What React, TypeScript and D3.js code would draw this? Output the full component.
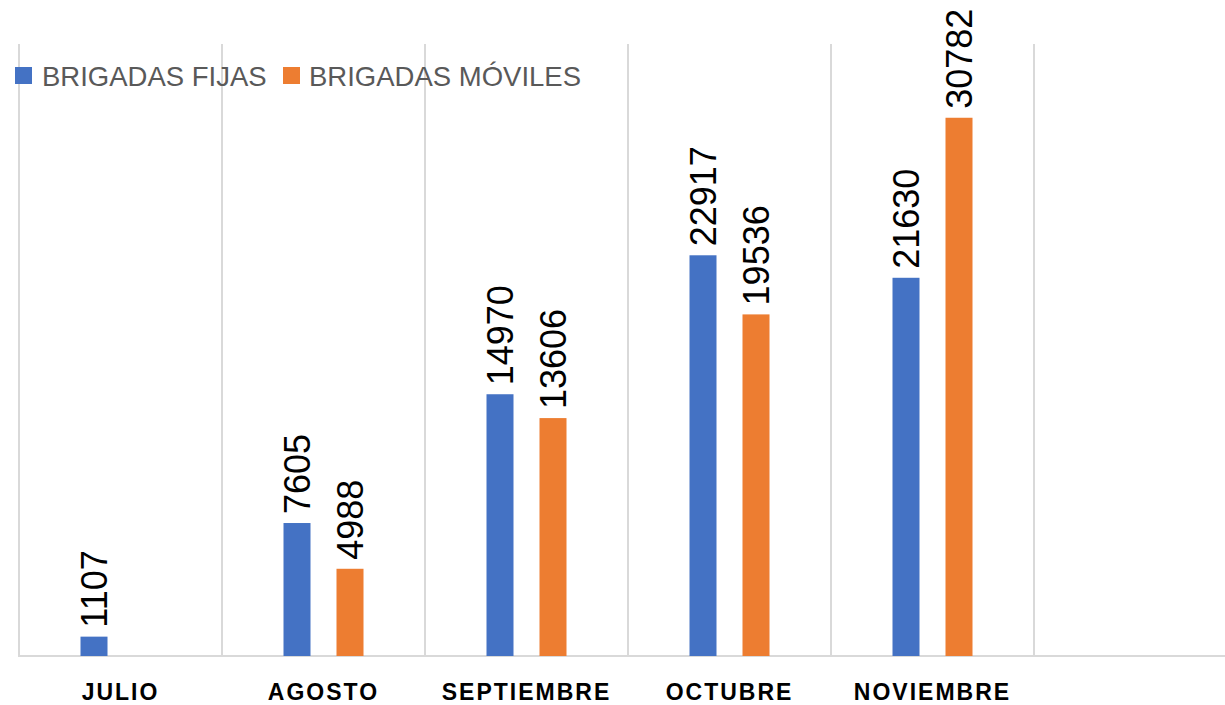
import React from "react";
import * as d3 from "d3";

const categories = ["JULIO", "AGOSTO", "SEPTIEMBRE", "OCTUBRE", "NOVIEMBRE", ""];
const seriesNames = ["BRIGADAS FIJAS", "BRIGADAS MÓVILES"];
const fijas: (number | null)[] = [1107, 7605, 14970, 22917, 21630, null];
const moviles: (number | null)[] = [null, 4988, 13606, 19536, 30782, null];
const colors = ["#4472C4", "#ED7D31"];
const yMax = 35000;

const W = 1225;
const H = 705;

export default function App() {
  const x = d3.scaleBand<string>().domain(categories.map((c, i) => String(i))).range([19, 19 + 6 * 203]).padding(0);
  const y = d3.scaleLinear().domain([0, yMax]).range([656, 44]);
  const bw = x.bandwidth();
  const barW = 27;
  const offset = 26.5;
  const series = [fijas, moviles];
  const font = "'Liberation Sans', Arial, sans-serif";

  return (
    <svg width={W} height={H} style={{ position: "absolute", left: 0, top: 0, background: "#fff" }}>
      {categories.map((c, i) => {
        const x0 = x(String(i))!;
        return <line key={"g" + i} x1={x0} x2={x0} y1={44} y2={656} stroke="#D9D9D9" strokeWidth={2} />;
      })}
      <line x1={18} x2={W} y1={656} y2={656} stroke="#D9D9D9" strokeWidth={2} />
      {series.map((vals, s) =>
        vals.map((v, i) => {
          if (v == null) return null;
          const cx = x(String(i))! + bw / 2 + (s === 0 ? -offset : offset);
          const top = y(v);
          return (
            <g key={`b${s}-${i}`}>
              <rect x={cx - barW / 2} y={top} width={barW} height={656 - top} fill={colors[s]} />
              <text
                transform={`translate(${cx + 12.5},${top - 9}) rotate(-90)`}
                fontFamily={font}
                fontSize={36}
                fill="#000"
              >
                {v}
              </text>
            </g>
          );
        })
      )}
      {categories.map((c, i) => (
        <text
          key={"c" + i}
          x={x(String(i))! + bw / 2}
          y={699.5}
          textAnchor="middle"
          fontFamily={font}
          fontWeight="bold"
          fontSize={23}
          letterSpacing={2}
          fill="#000"
        >
          {c}
        </text>
      ))}
      <rect x={15} y={67} width={17} height={17} fill={colors[0]} />
      <text x={42} y={86} fontFamily={font} fontSize={27.5} fill="#595959">{seriesNames[0]}</text>
      <rect x={283} y={67} width={17} height={17} fill={colors[1]} />
      <text x={309} y={86} fontFamily={font} fontSize={27.5} fill="#595959">{seriesNames[1]}</text>
    </svg>
  );
}
